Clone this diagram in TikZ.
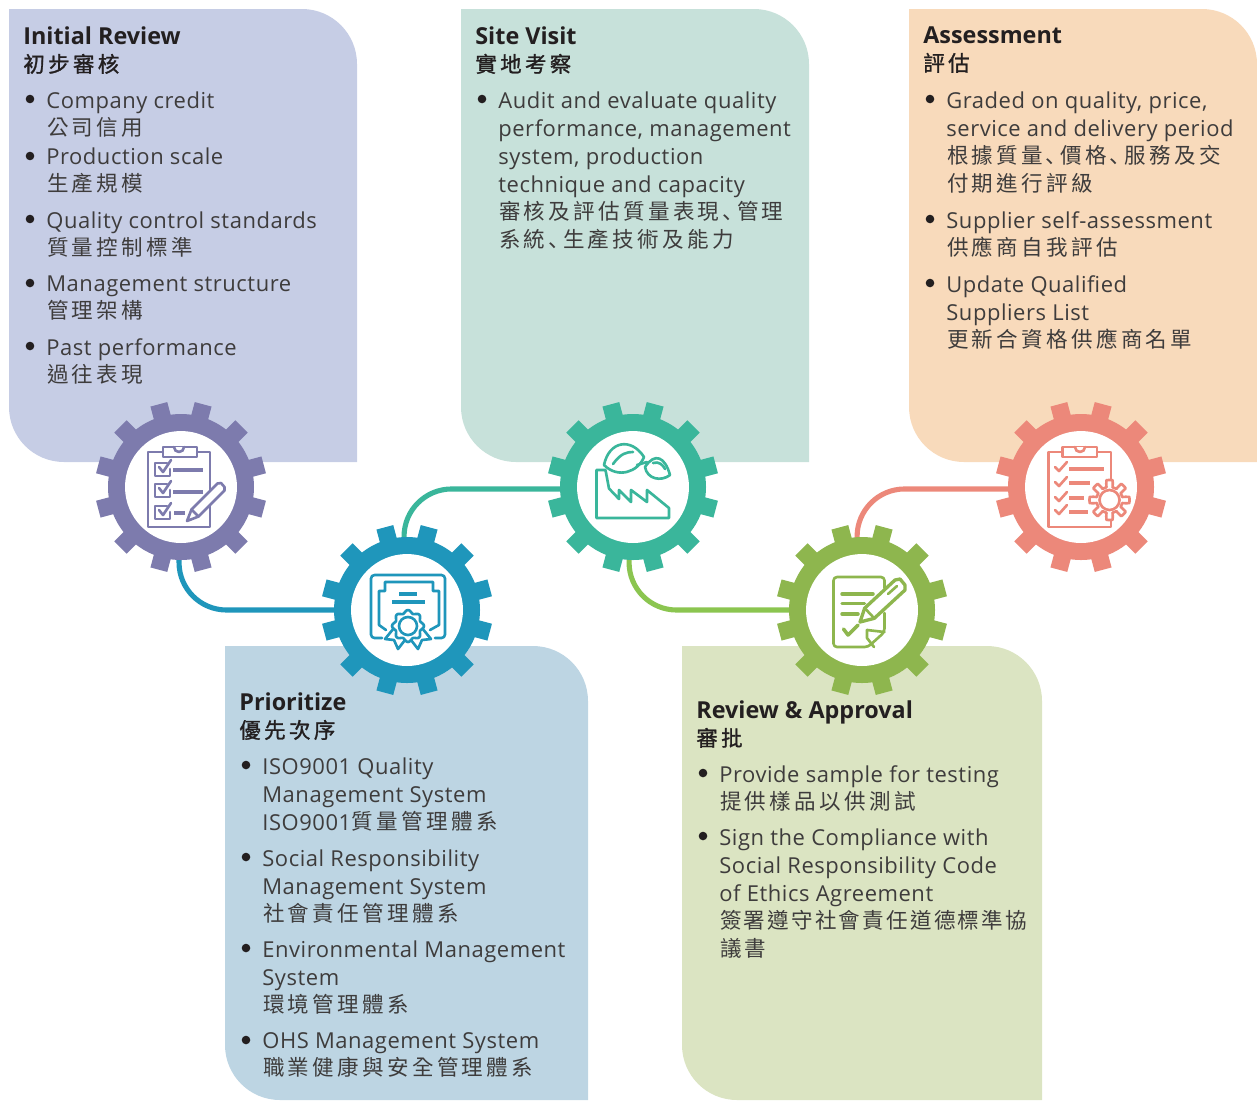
\documentclass[tikz,border=0pt]{standalone}
\usepackage{fontspec}
\setmainfont[LetterSpace=2.5]{Open Sans}
\newfontfamily\headfont{Open Sans}
\newfontfamily\cjk[Scale=0.98,LetterSpace=15.5]{Noto Sans CJK TC}
\newfontfamily\cjkhead[Scale=0.92,LetterSpace=15.5,FakeBold=1.2]{Noto Sans CJK TC}
\newfontfamily\cjkmark[Scale=0.98]{Noto Sans CJK SC}
\newfontfamily\cjktight[Scale=0.98,LetterSpace=10.5]{Noto Sans CJK TC}
\newcommand{\zh}[1]{\raisebox{0.5pt}{\cjk\kern0.4pt #1}}
\newcommand{\dun}{\kern1.5pt{\cjkmark 、}\kern-3.7pt}
\usetikzlibrary{backgrounds}

\definecolor{reviewpurple}{RGB}{125, 123, 173}
\definecolor{priorityblue}{RGB}{31, 150, 187}
\definecolor{visitgreen}{RGB}{58, 182, 155}
\definecolor{approvalgreen}{RGB}{142, 182, 78}
\definecolor{assesssalmon}{RGB}{236, 136, 122}
\definecolor{linkgreen}{RGB}{139, 197, 80}
\definecolor{panelpurple}{RGB}{198, 205, 229}
\definecolor{panelblue}{RGB}{189, 213, 227}
\definecolor{panelgreen}{RGB}{199, 225, 218}
\definecolor{panelolive}{RGB}{219, 228, 194}
\definecolor{panelorange}{RGB}{248, 218, 187}
\definecolor{textgray}{RGB}{62, 60, 60}
\definecolor{textdark}{RGB}{35, 31, 32}

\tikzset{
  titletext/.style={anchor=north west, inner sep=0pt, align=left, text=textdark, font=\fontsize{13.3}{15.93}\selectfont, execute at begin node=\strut},
  itemtext/.style={anchor=north west, inner sep=0pt, align=left, text=textgray, font=\fontsize{12.5}{15.93}\selectfont, execute at begin node=\strut},
  hub/.style={circle, fill=white, inner sep=0pt, minimum size=2.24cm},
  link/.style={draw=#1, line width=2.9pt, rounded corners=0.95cm},
  iconline/.style={draw=#1, line width=1.5pt, line cap=round, line join=round},
  iconbar/.style={draw=#1, line width=2pt},
  pics/cog/.style={code={
    \fill[#1] (0,0) circle[radius=73];
    \foreach \a in {15,45,...,345}
      \fill[#1, rotate=\a] (68,-8.7) -- (85.6,-8.7) -- (85.6,8.7) -- (68,8.7) -- cycle;
  }}
}

\begin{document}
\begin{tikzpicture}[x=0.02cm, y=-0.02cm]
  \useasboundingbox (0,0) rectangle (1257,1100);

  % Gears
  \pic at (181,487) {cog=reviewpurple};
  \node[hub] (review) at (181,487) {};
  \pic at (407,610) {cog=priorityblue};
  \node[hub] (prioritize) at (407,610) {};
  \pic at (633,487) {cog=visitgreen};
  \node[hub] (sitevisit) at (633,487) {};
  \pic at (862,610) {cog=approvalgreen};
  \node[hub] (approval) at (862,610) {};
  \pic at (1081,487) {cog=assesssalmon};
  \node[hub] (assessment) at (1081,487) {};

  % Panels and connectors go underneath
  \begin{scope}[on background layer]
    \fill[panelpurple] (9,9) [rounded corners=1.1cm] -- (357,9) [sharp corners] -- (357,462) [rounded corners=1.1cm] -- (9,462) [sharp corners] -- cycle;
    \fill[panelgreen] (461,9) [rounded corners=1.1cm] -- (809,9) [sharp corners] -- (809,462) [rounded corners=1.1cm] -- (461,462) [sharp corners] -- cycle;
    \fill[panelorange] (909,9) [rounded corners=1.1cm] -- (1257,9) [sharp corners] -- (1257,462) [rounded corners=1.1cm] -- (909,462) [sharp corners] -- cycle;
    \fill[panelblue] (225,646) [rounded corners=1.1cm] -- (588,646) [sharp corners] -- (588,1100) [rounded corners=1.1cm] -- (225,1100) [sharp corners] -- cycle;
    \fill[panelolive] (682,646) [rounded corners=1.1cm] -- (1042,646) [sharp corners] -- (1042,1100) [rounded corners=1.1cm] -- (682,1100) [sharp corners] -- cycle;

    \draw[link=priorityblue] (review.268) |- (prioritize);
    \draw[link=visitgreen] (prioritize.93) |- (sitevisit.182);
    \draw[link=linkgreen] (sitevisit.266) |- (approval);
    \draw[link=assesssalmon] (approval.95) |- (assessment.182);
  \end{scope}

  % Checklist icon
  \begin{scope}[shift={(review)}]
    \draw[iconline=reviewpurple] (-33,-35) rectangle (29,40);
    \draw[iconline=reviewpurple, fill=white] (-18,-40) rectangle (16,-30);
    \draw[iconline=reviewpurple, fill=white] (-7,-40) arc[start angle=180, end angle=0, radius=5];
    \foreach \y in {-24,-3,19} {
      \draw[iconline=reviewpurple] (-14,\y) -- (-26,\y) -- (-26,\y+13) -- (-11,\y+13) -- (-11,\y+6);
      \draw[iconline=reviewpurple] (-22,\y+4) -- (-18,\y+9) -- (-10,\y-3);
    }
    \draw[iconbar=reviewpurple] (-8,-17) -- (22,-17);
    \draw[iconbar=reviewpurple] (-8,5) -- (22,5);
    \draw[iconbar=reviewpurple] (-7,26) -- (4,26);
    \draw[iconline=reviewpurple, fill=white] (6,34) -- (10.5,22.5) -- (36.5,-3.5) -- (40,-4) -- (43.5,0) -- (43.5,3.5) -- (17.5,29.5) -- cycle;
    \draw[iconline=reviewpurple] (10.5,22.5) -- (17.5,29.5);
  \end{scope}

  % Certificate icon
  \begin{scope}[shift={(prioritize)}]
    \draw[iconline=priorityblue, rounded corners=2pt] (-25,28) -- (-36,28) -- (-36,-35) -- (38,-35) -- (38,28) -- (28,28);
    \draw[iconline=priorityblue] (-21,20) -- (-28,15) -- (-28,-19) -- (-22,-19) -- (-22,-28) -- (26,-28) -- (26,-19) -- (32,-19) -- (32,15) -- (23,20);
    \draw[iconbar=priorityblue] (-8,-16) -- (10,-16);
    \draw[iconbar=priorityblue] (-15,-8) -- (18,-8);
    \draw[iconline=priorityblue, fill=white] (-13,18) -- (-22,29) -- (-13,30) -- (-9,39) -- (-2,30);
    \draw[iconline=priorityblue, fill=white] (15,18) -- (24,29) -- (15,30) -- (11,39) -- (4,30);
    \draw[iconline=priorityblue, fill=white] plot[domain=0:360, samples=73] ({1+(14.5+1.5*cos(8*\x))*cos(\x)}, {16+(14.5+1.5*cos(8*\x))*sin(\x)}) -- cycle;
    \node[circle, draw=priorityblue, line width=1.5pt, inner sep=0pt, minimum size=0.36cm] (seal) at (1,16) {};
  \end{scope}

  % Factory icon
  \begin{scope}[shift={(sitevisit)}, every path/.append style={line width=1.8pt}]
    \draw[iconline=visitgreen] (-36.5,31) -- (-36.5,-17) -- (-27.5,-17) -- (-24,1.5) -- (-14,12) -- (-14,3) -- (-2,15) -- (-2,3) -- (14,15) -- (14,3) -- (36,21) -- (36,31) -- cycle;
    \draw[iconline=visitgreen, fill=white] (-29,-22) .. controls (-24,-46) and (-2,-50) .. (11,-30) .. controls (5,-15) and (-15,-8) .. cycle;
    \draw[iconline=visitgreen] (-20,-23) .. controls (-12,-34) and (-6,-35) .. (0,-35);
    \draw[iconline=visitgreen, fill=white] (12,-20) .. controls (22,-35) and (32,-30) .. (37,-12) .. controls (28,-5) and (14,-8) .. cycle;
    \draw[iconline=visitgreen] (4,-22) -- (14,-25);
    \draw[iconline=visitgreen] (20,-24) .. controls (26,-26) and (30,-22) .. (32,-18);
  \end{scope}

  % Document icon
  \begin{scope}[shift={(approval)}]
    \draw[iconline=approvalgreen, rounded corners=2pt] (22.5,-22) -- (22.5,-33) -- (-28.5,-33) -- (-28.5,37) -- (6,37) -- (22.5,22) -- (22.5,3);
    \draw[iconline=approvalgreen] (5,20) -- (5,28) -- (12,37);
    \draw[iconline=approvalgreen] (5,20) -- (22.5,22);
    \draw[iconbar=approvalgreen, line cap=round] (-20,-16) -- (11,-16);
    \draw[iconbar=approvalgreen, line cap=round] (-20,-6.5) -- (2.5,-6.5);
    \draw[iconbar=approvalgreen, line cap=round] (-20,4) -- (-4,4);
    \draw[iconbar=approvalgreen, line cap=round, line join=round] (-18.5,19) -- (-14,25) -- (-4,15);
    \draw[iconline=approvalgreen, line width=1.9pt, fill=white] (-2,12) -- (2.7,-1.9) -- (33,-30) -- (38,-31) -- (43,-25) -- (43,-20) -- (12.3,8.3) -- cycle;
    \draw[iconline=approvalgreen] (26,-16) -- (35,-24);
    \draw[iconline=approvalgreen] (2.7,-1.9) -- (12.3,8.3);
  \end{scope}

  % Clipboard with gear icon
  \begin{scope}[shift={(assessment)}]
    \draw[iconline=assesssalmon] (-32.5,-35) rectangle (30,40);
    \draw[iconline=assesssalmon, fill=white] (-18.5,-40) rectangle (16,-30);
    \draw[iconline=assesssalmon, fill=white] (-6,-40) arc[start angle=180, end angle=0, radius=5];
    \foreach \y in {-20,-5,10,23}
      \draw[iconline=assesssalmon] (-26,\y) -- (-22,\y+4) -- (-14,\y-5);
    \draw[iconbar=assesssalmon] (-12,-18) -- (22.5,-18);
    \draw[iconbar=assesssalmon] (-12,-4) -- (9,-4);
    \draw[iconbar=assesssalmon] (-12,11) -- (2.5,11);
    \draw[iconbar=assesssalmon] (-12,25) -- (6.5,25);
    \draw[iconline=assesssalmon, fill=white] plot[domain=0:360, samples=161] ({28.5+(16.5+3.5*sign(cos(8*\x)))*cos(\x)}, {13+(16.5+3.5*sign(cos(8*\x)))*sin(\x)}) -- cycle;
    \node[circle, draw=assesssalmon, line width=1.5pt, inner sep=0pt, minimum size=0.4cm] (wheel) at (28.5,13) {};
  \end{scope}

  % Bullets
  \foreach \bx/\by in {30/99,30/156,30/219,30/283,30/346,482/99,930/99,930/219,930/283,246/765,246/857,246/948,246/1040,703/773,703/836}
    \fill[textdark] (\bx,\by) circle[radius=4.3];

  % Initial Review
  \node[titletext] (reviewtitle) at (23,26) {{\headfont\bfseries Initial Review}\\{\cjkhead 初步審核}};
  \node[itemtext] (credit) at (46,91) {Company credit\\\zh{公司信用}};
  \node[itemtext] (scale) at (46,147) {Production scale\\\zh{生產規模}};
  \node[itemtext] (quality) at (46,211) {Quality control standards\\\zh{質量控制標準}};
  \node[itemtext] (structure) at (46,275) {Management structure\\\zh{管理架構}};
  \node[itemtext] (past) at (46,338) {Past performance\\\zh{過往表現}};

  % Site Visit
  \node[titletext] (visittitle) at (475,26) {{\headfont\bfseries Site Visit}\\{\cjkhead 實地考察}};
  \node[itemtext] (audit) at (498,91) {Audit and evaluate quality\\performance, management\\system, production\\technique and capacity\\\zh{審核及評估質量表現\dun 管理}\\\zh{系統\dun 生產技術及能力}};

  % Assessment
  \node[titletext] (assesstitle) at (923,26) {{\headfont\bfseries Assessment}\\{\cjkhead 評估}};
  \node[itemtext] (graded) at (946,91) {Graded on quality, price,\\service and delivery period\\\zh{根據質量\dun 價格\dun 服務及交}\\\zh{付期進行評級}};
  \node[itemtext] (selfassess) at (946,211) {Supplier self-assessment\\\zh{供應商自我評估}};
  \node[itemtext] (update) at (946,275) {Update Qualified\\Suppliers List\\\zh{更新合資格供應商名單}};

  % Prioritize
  \node[titletext] (prioritytitle) at (239,692) {{\headfont\bfseries Prioritize}\\{\cjkhead 優先次序}};
  \node[itemtext] (iso) at (262,757) {ISO9001 Quality\\Management System\\ISO9001\zh{質量管理體系}};
  \node[itemtext] (social) at (262,849) {Social Responsibility\\Management System\\\zh{社會責任管理體系}};
  \node[itemtext] (environment) at (262,940) {Environmental Management\\System\\\zh{環境管理體系}};
  \node[itemtext] (ohs) at (262,1032) {OHS Management System\\\zh{職業健康與安全管理體系}};

  % Review & Approval
  \node[titletext] (approvaltitle) at (696,700) {{\headfont\bfseries Review \& Approval}\\{\cjkhead 審批}};
  \node[itemtext] (sample) at (719,765) {Provide sample for testing\\\zh{提供樣品以供測試}};
  \node[itemtext] (compliance) at (719,828) {Sign the Compliance with\\Social Responsibility Code\\of Ethics Agreement\\\zh{\cjktight 簽署遵守社會責任道德標準協}\\\zh{議書}};
\end{tikzpicture}
\end{document}
